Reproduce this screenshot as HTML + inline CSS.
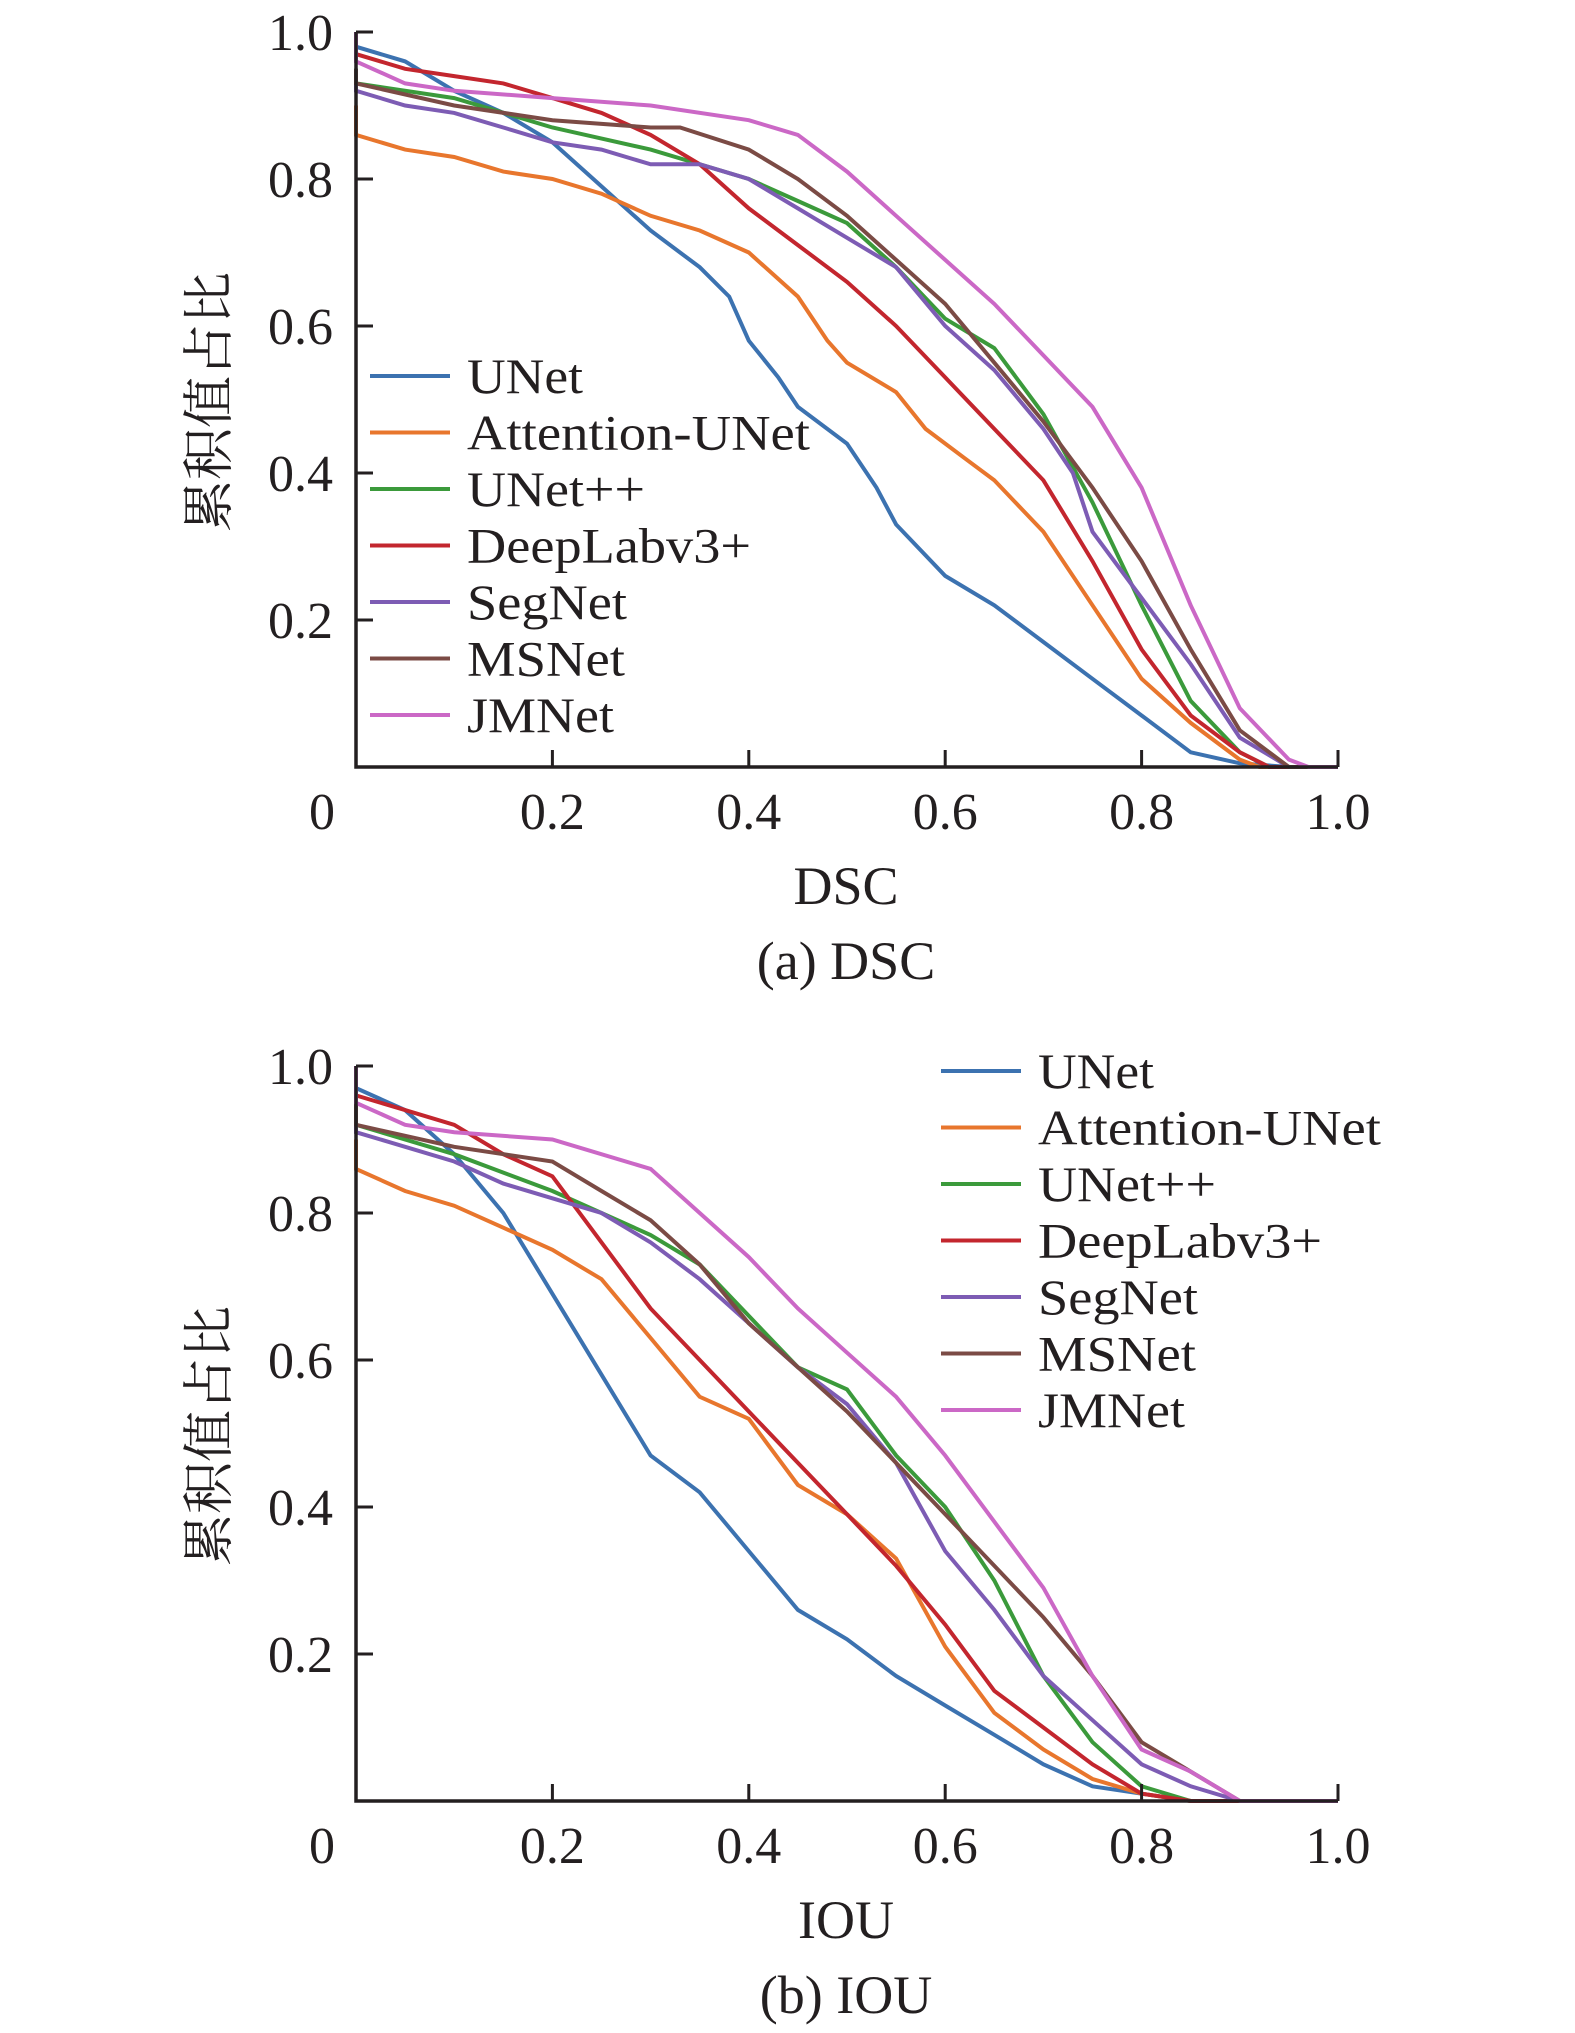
<!DOCTYPE html>
<html><head><meta charset="utf-8">
<style>
html,body{margin:0;padding:0;background:#fff;}
svg{display:block;}
text{font-family:"Liberation Serif","Noto Serif CJK SC",serif;fill:#231f20;}
</style></head>
<body>
<svg id="chart" width="1575" height="2033" viewBox="0 0 1575 2033" xmlns="http://www.w3.org/2000/svg"></svg>
<script>
// ---------- data ----------
const seriesNames = ["UNet","Attention-UNet","UNet++","DeepLabv3+","SegNet","MSNet","JMNet"];
const seriesColors = ["#3c72b0","#e8762d","#3b9a3b","#c3262e","#7d5cb4","#7b4b45","#cb68c6"];
const xTicks = [0,0.2,0.4,0.6,0.8,1.0];
const xTickLabels = ["0","0.2","0.4","0.6","0.8","1.0"];
const yTicks = [0.2,0.4,0.6,0.8,1.0];
const yTickLabels = ["0.2","0.4","0.6","0.8","1.0"];

// DSC panel
const dscX_UNet = [0,0,0.05,0.1,0.15,0.2,0.25,0.3,0.35,0.38,0.4,0.43,0.45,0.5,0.53,0.55,0.6,0.65,0.7,0.75,0.8,0.85,0.9,0.95,1];
const dscY_UNet = [1,0.98,0.96,0.92,0.89,0.85,0.79,0.73,0.68,0.64,0.58,0.53,0.49,0.44,0.38,0.33,0.26,0.22,0.17,0.12,0.07,0.02,0.005,0,0];
const dscX_Att = [0,0,0.05,0.1,0.15,0.2,0.25,0.3,0.35,0.4,0.45,0.48,0.5,0.55,0.58,0.62,0.65,0.7,0.75,0.8,0.85,0.9,0.92,1];
const dscY_Att = [0.9,0.86,0.84,0.83,0.81,0.80,0.78,0.75,0.73,0.70,0.64,0.58,0.55,0.51,0.46,0.42,0.39,0.32,0.22,0.12,0.06,0.01,0,0];
const dscX_UPP = [0,0,0.1,0.2,0.3,0.4,0.45,0.5,0.55,0.6,0.65,0.7,0.75,0.8,0.85,0.9,0.93,1];
const dscY_UPP = [0.95,0.93,0.91,0.87,0.84,0.80,0.77,0.74,0.68,0.61,0.57,0.48,0.36,0.22,0.09,0.02,0,0];
const dscX_DL = [0,0,0.05,0.1,0.15,0.2,0.25,0.3,0.35,0.4,0.45,0.5,0.55,0.6,0.65,0.7,0.75,0.8,0.85,0.9,0.93,1];
const dscY_DL = [0.98,0.97,0.95,0.94,0.93,0.91,0.89,0.86,0.82,0.76,0.71,0.66,0.60,0.53,0.46,0.39,0.28,0.16,0.07,0.02,0,0];
const dscX_Seg = [0,0,0.05,0.1,0.15,0.2,0.25,0.3,0.35,0.4,0.45,0.5,0.55,0.6,0.65,0.7,0.73,0.75,0.8,0.85,0.9,0.95,1];
const dscY_Seg = [0.93,0.92,0.90,0.89,0.87,0.85,0.84,0.82,0.82,0.80,0.76,0.72,0.68,0.60,0.54,0.46,0.40,0.32,0.23,0.14,0.04,0,0];
const dscX_MS = [0,0,0.1,0.2,0.3,0.33,0.4,0.45,0.5,0.55,0.6,0.65,0.7,0.75,0.8,0.85,0.9,0.95,1];
const dscY_MS = [0.95,0.93,0.90,0.88,0.87,0.87,0.84,0.80,0.75,0.69,0.63,0.55,0.47,0.38,0.28,0.16,0.05,0,0];
const dscX_JM = [0,0,0.05,0.1,0.2,0.3,0.4,0.45,0.5,0.55,0.6,0.65,0.7,0.75,0.8,0.85,0.9,0.95,0.97,1];
const dscY_JM = [1,0.96,0.93,0.92,0.91,0.90,0.88,0.86,0.81,0.75,0.69,0.63,0.56,0.49,0.38,0.22,0.08,0.01,0,0];

// IOU panel
const iouX_UNet = [0,0,0.05,0.1,0.15,0.2,0.25,0.3,0.35,0.4,0.45,0.5,0.55,0.6,0.65,0.7,0.75,0.8,0.85,1];
const iouY_UNet = [1,0.97,0.94,0.88,0.80,0.69,0.58,0.47,0.42,0.34,0.26,0.22,0.17,0.13,0.09,0.05,0.02,0.01,0,0];
const iouX_Att = [0,0,0.05,0.1,0.15,0.2,0.25,0.3,0.35,0.4,0.45,0.5,0.55,0.6,0.65,0.7,0.75,0.8,0.85,1];
const iouY_Att = [0.9,0.86,0.83,0.81,0.78,0.75,0.71,0.63,0.55,0.52,0.43,0.39,0.33,0.21,0.12,0.07,0.03,0.01,0,0];
const iouX_UPP = [0,0,0.1,0.2,0.3,0.35,0.4,0.45,0.5,0.55,0.6,0.65,0.7,0.75,0.8,0.85,1];
const iouY_UPP = [0.94,0.92,0.88,0.83,0.77,0.73,0.66,0.59,0.56,0.47,0.40,0.30,0.17,0.08,0.02,0,0];
const iouX_DL = [0,0,0.05,0.1,0.15,0.2,0.25,0.3,0.35,0.4,0.45,0.5,0.55,0.6,0.65,0.7,0.75,0.8,0.85,1];
const iouY_DL = [0.97,0.96,0.94,0.92,0.88,0.85,0.76,0.67,0.60,0.53,0.46,0.39,0.32,0.24,0.15,0.10,0.05,0.01,0,0];
const iouX_Seg = [0,0,0.05,0.1,0.15,0.2,0.25,0.3,0.35,0.4,0.45,0.5,0.55,0.6,0.65,0.7,0.75,0.8,0.85,0.9,1];
const iouY_Seg = [0.93,0.91,0.89,0.87,0.84,0.82,0.80,0.76,0.71,0.65,0.59,0.54,0.46,0.34,0.26,0.17,0.11,0.05,0.02,0,0];
const iouX_MS = [0,0,0.1,0.2,0.25,0.3,0.35,0.4,0.45,0.5,0.55,0.6,0.65,0.7,0.75,0.8,0.85,0.9,1];
const iouY_MS = [0.95,0.92,0.89,0.87,0.83,0.79,0.73,0.65,0.59,0.53,0.46,0.39,0.32,0.25,0.17,0.08,0.04,0,0];
const iouX_JM = [0,0,0.05,0.1,0.2,0.3,0.35,0.4,0.45,0.5,0.55,0.6,0.65,0.7,0.75,0.8,0.85,0.9,1];
const iouY_JM = [1,0.95,0.92,0.91,0.90,0.86,0.80,0.74,0.67,0.61,0.55,0.47,0.38,0.29,0.17,0.07,0.04,0,0];

const dscXs = [dscX_UNet,dscX_Att,dscX_UPP,dscX_DL,dscX_Seg,dscX_MS,dscX_JM];
const dscYs = [dscY_UNet,dscY_Att,dscY_UPP,dscY_DL,dscY_Seg,dscY_MS,dscY_JM];
const iouXs = [iouX_UNet,iouX_Att,iouX_UPP,iouX_DL,iouX_Seg,iouX_MS,iouX_JM];
const iouYs = [iouY_UNet,iouY_Att,iouY_UPP,iouY_DL,iouY_Seg,iouY_MS,iouY_JM];

// ---------- drawing ----------
const NS = "http://www.w3.org/2000/svg";
const svg = document.getElementById("chart");
function mk(tag, attrs, parent){
  const e = document.createElementNS(NS, tag);
  for (const k in attrs) e.setAttribute(k, attrs[k]);
  (parent||svg).appendChild(e);
  return e;
}

const X0 = 356, X1 = 1338;
function drawPanel(key, top, xs, ys, xTitle, caption, legX, legY){
  const yBottom = top + 735;
  const sx = v => X0 + v*(X1-X0);
  const sy = v => yBottom - v*(yBottom-top);
  const g = mk("g", {});
  
  

  xs.forEach((arr, i) => {
    const pts = arr.map((x, j) => sx(x).toFixed(1) + "," + sy(ys[i][j]).toFixed(1)).join(" ");
    const pl = mk("polyline", {points: pts, fill: "none", stroke: seriesColors[i], "stroke-width": 4, "stroke-linejoin": "miter"}, g);
    
    
  });

  const ax = mk("path", {d: `M${X0},${top} V${yBottom} H${X1}`, fill:"none", stroke:"#231f20", "stroke-width":3.5}, g);
  
  

  xTicks.forEach((v, i) => {
    if (v > 0) {
      const t = mk("line", {x1:sx(v), x2:sx(v), y1:yBottom, y2:yBottom-17, stroke:"#231f20", "stroke-width":3}, g);
      
      
    }
    const lb = mk("text", {x: i===0 ? sx(v)-34 : sx(v), y: yBottom+62, "font-size":52, "text-anchor":"middle"}, g);
    lb.textContent = xTickLabels[i];
    
    
  });
  yTicks.forEach((v, i) => {
    const t = mk("line", {x1:X0, x2:X0+17, y1:sy(v), y2:sy(v), stroke:"#231f20", "stroke-width":3}, g);
    
    
    const lb = mk("text", {x: 333, y: sy(v)+18, "font-size":52, "text-anchor":"end"}, g);
    lb.textContent = yTickLabels[i];
    
    
  });

  const yt = mk("text", {x:0, y:0, "font-size":52, "text-anchor":"middle", transform:`translate(227,${top+370}) rotate(-90)`}, g);
  yt.textContent = "累积值占比";
  
  

  const xt = mk("text", {x:846, y:yBottom+137, "font-size":54, "text-anchor":"middle"}, g);
  xt.textContent = xTitle;
  
  

  const cp = mk("text", {x:846, y:yBottom+212, "font-size":54, "text-anchor":"middle"}, g);
  cp.textContent = caption;
  
  

  const lg = mk("g", {}, g);
  
  
  const widths = [116,343,178,284,160,158,147];
  seriesNames.forEach((n, i) => {
    const yy = legY + i*56.5;
    const ent = mk("g", {}, lg);
    
    
    mk("line", {x1:legX, x2:legX+80, y1:yy, y2:yy, stroke:seriesColors[i], "stroke-width":4}, ent);
    const tx = mk("text", {x:legX+97, y:yy+17, "font-size":50, textLength:widths[i], lengthAdjust:"spacingAndGlyphs"}, ent);
    tx.textContent = n;
  });
}

drawPanel("dsc", 32, dscXs, dscYs, "DSC", "(a) DSC", 370, 376);
drawPanel("iou", 1066, iouXs, iouYs, "IOU", "(b) IOU", 941, 1071);
</script>
</body></html>
